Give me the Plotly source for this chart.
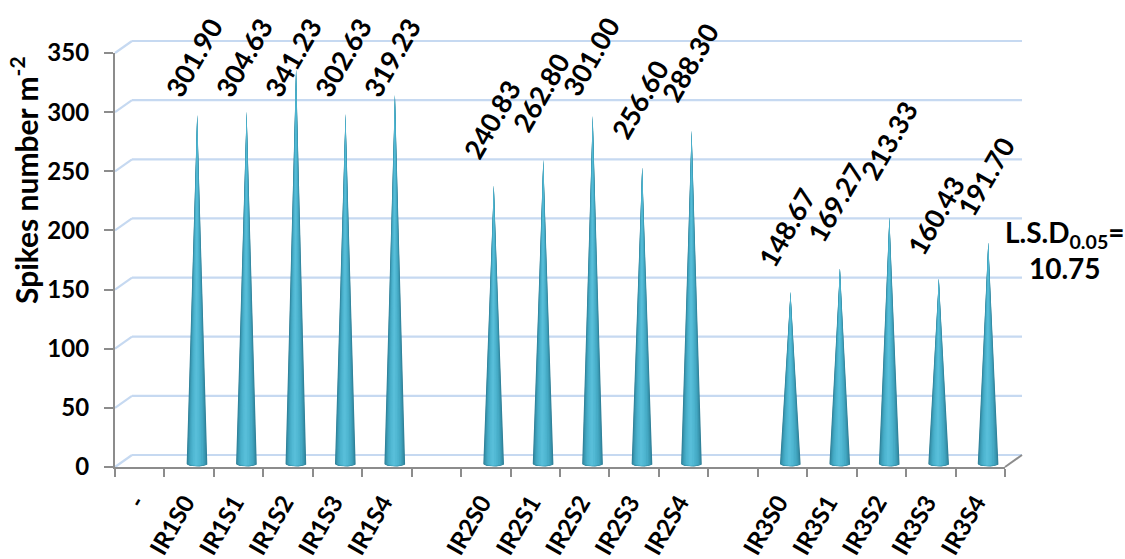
import numpy as np
import plotly.graph_objects as go

categories = ["-", "IR1S0", "IR1S1", "IR1S2", "IR1S3", "IR1S4", "",
              "IR2S0", "IR2S1", "IR2S2", "IR2S3", "IR2S4", "",
              "IR3S0", "IR3S1", "IR3S2", "IR3S3", "IR3S4"]
values = [None, 301.90, 304.63, 341.23, 302.63, 319.23, None,
          240.83, 262.80, 301.00, 256.60, 288.30, None,
          148.67, 169.27, 213.33, 160.43, 191.70]
y_ticks = [0, 50, 100, 150, 200, 250, 300, 350]
y_title = "Spikes number m<sup>-2</sup>"
lsd_text = "L.S.D<sub>0.05</sub>=<br>10.75"

W, H = 1125, 559
PX_L, PX_R, PX_TOP, PX_BOT = 115, 1005, 53, 467
DEPTH_X, DEPTH_Y = 17, 12
FONT = "Lato"
n = len(categories)
ux = (PX_R - PX_L) / n          # px per slot
uy = (PX_BOT - PX_TOP) / 350    # px per unit

# label placement (px centres of the rotated labels), one per valued category
label_px_x = [194, 244, 293, 343, 392, 492, 541, 591, 640, 690, 787, 836, 889, 936, 986]
label_px_y = [58, 58, 58, 58, 58, 120, 93, 57, 100, 63, 228, 203, 141, 216, 177]


def val_py(v):
    return PX_BOT - v * uy


def seg(x0, y0, x1, y1, colour, width):
    return dict(type="line", xref="paper", yref="paper", layer="below",
                x0=x0 / W, x1=x1 / W, y0=1 - y0 / H, y1=1 - y1 / H,
                line=dict(color=colour, width=width))


# back wall + side wall gridlines (outside the axes' range, so in paper space)
GRID = "#c6d9f1"
shapes = []
for v in y_ticks:
    py = val_py(v)
    shapes.append(seg(PX_L, py, PX_L + DEPTH_X, py - DEPTH_Y, GRID, 2.2))
    shapes.append(seg(PX_L + DEPTH_X, py - DEPTH_Y, PX_R + DEPTH_X, py - DEPTH_Y, GRID, 2.2))
shapes.append(seg(PX_R, PX_BOT, PX_R + DEPTH_X, PX_BOT - DEPTH_Y, "#8c8c8c", 2))

fig = go.Figure()

# cones: nested polygons sharing the apex give the shading of a round cone
layers = [(1.00, "#2f7e95"), (0.94, "#3389a2"), (0.86, "#3995ae"), (0.76, "#3fa1bb"),
          (0.64, "#46abc6"), (0.50, "#4cb3ce"), (0.34, "#52b9d4"), (0.16, "#58bed9")]
half_w = 10.5 / ux
base = 3.2 / uy
dip = 2.6 / uy
height_scale = 0.977
t = np.linspace(0, np.pi, 13)
centres = [i + 0.5 + 8 / ux for i, v in enumerate(values) if v is not None]
vals = [v for v in values if v is not None]
for f, colour in layers:
    xs, ys = [], []
    for c, v in zip(centres, vals):
        tip = v * height_scale + base
        xs += [c] + list(c + f * half_w * np.cos(t) - (1 - f) * 0.02) + [c, None]
        ys += [tip] + list(base - dip * np.sin(t) * (0.5 + 0.5 * f)) + [tip, None]
    fig.add_trace(go.Scatter(x=xs, y=ys, mode="lines", fill="toself", fillcolor=colour,
                             line=dict(width=0), hoverinfo="skip", showlegend=False))

# value labels
for v, lx, ly in zip(vals, label_px_x, label_px_y):
    fig.add_annotation(x=(lx - PX_L) / ux, y=(PX_BOT - ly) / uy, xref="x", yref="y",
                       text=f"{v:.2f}", showarrow=False, textangle=-60,
                       font=dict(family=FONT, size=27, color="black", weight="bold"),
                       xanchor="center", yanchor="middle")

fig.add_annotation(x=24 / W, y=1 - 180 / H, xref="paper", yref="paper", text=y_title,
                   showarrow=False, textangle=-90, xanchor="center", yanchor="middle",
                   font=dict(family=FONT, size=30, color="black", weight="bold"))
fig.add_annotation(x=1065 / W, y=1 - 250 / H, xref="paper", yref="paper", text=lsd_text,
                   showarrow=False, align="center", xanchor="center", yanchor="middle",
                   font=dict(family=FONT, size=28, color="black", weight="bold"))

fig.update_layout(
    width=W, height=H, margin=dict(l=0, r=0, t=0, b=0), autosize=False,
    paper_bgcolor="white", plot_bgcolor="rgba(0,0,0,0)", shapes=shapes,
    xaxis=dict(domain=[PX_L / W, PX_R / W], range=[0, n], showgrid=False, zeroline=False,
               automargin=False,
               showline=True, linecolor="#8c8c8c", linewidth=2.2,
               tickmode="array", tickvals=[i + 0.42 for i in range(n)], ticktext=categories,
               ticks="", tickangle=-60, ticklabelstandoff=10,
               tickfont=dict(family=FONT, size=24, color="black", weight="bold"),
               minor=dict(tickmode="array", tickvals=list(range(n + 1)), ticks="outside",
                          ticklen=8, tickwidth=2, tickcolor="#8c8c8c", showgrid=False)),
    yaxis=dict(domain=[1 - PX_BOT / H, 1 - PX_TOP / H], range=[0, 350], showgrid=False,
               automargin=False,
               zeroline=False, showline=True, linecolor="#8c8c8c", linewidth=2.2,
               tickmode="array", tickvals=y_ticks, ticks="outside", ticklen=9, tickwidth=2,
               tickcolor="#8c8c8c", ticklabelstandoff=10,
               tickfont=dict(family=FONT, size=24, color="black", weight="bold")),
)
fig.write_html("out.html", config={"displayModeBar": False},
               post_script="document.body.style.margin='0';document.body.style.overflow='hidden';")
